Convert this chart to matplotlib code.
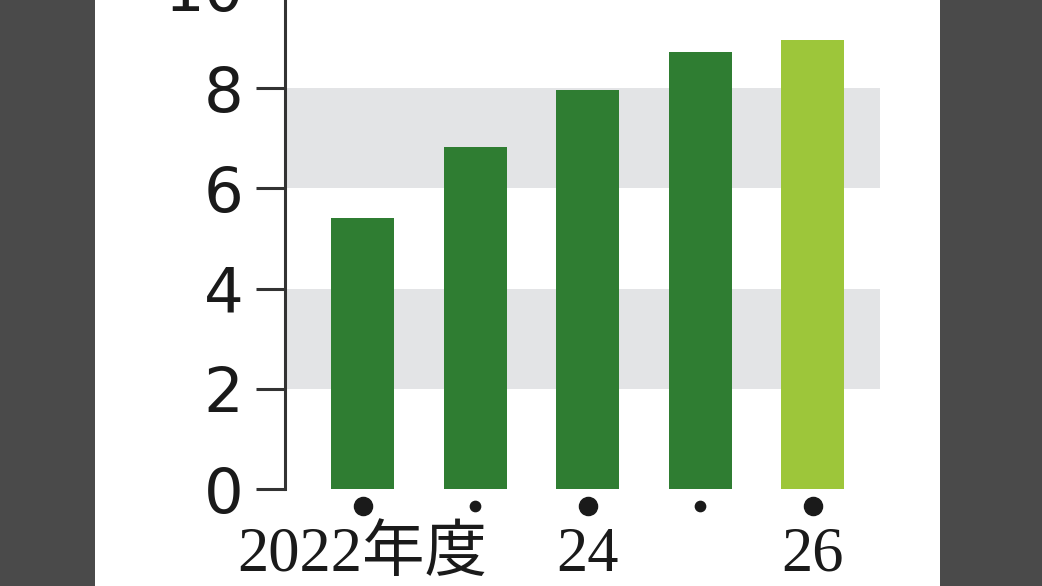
import matplotlib.pyplot as plt
from matplotlib.patches import Rectangle

# Daten
years = ["2022", "2023", "2024", "2025", "2026"]
values = [5.41, 6.83, 7.96, 8.72, 8.97]
bar_colors = ["#2f7d32", "#2f7d32", "#2f7d32", "#2f7d32", "#9dc63a"]
year_labels = ["2022年度", "", "24", "", "26"]
big_dot = [True, False, True, False, True]
y_ticks = [0, 2, 4, 6, 8, 10]
bands = [(2, 4), (6, 8)]

fig = plt.figure(figsize=(10.42, 5.86), dpi=100, facecolor="#4a4a4a")
# weisses Panel in der Mitte
panel = Rectangle((95 / 1042, 0), 845 / 1042, 1, transform=fig.transFigure,
                  facecolor="white", edgecolor="none", zorder=-1)
fig.add_artist(panel)

# Achse reicht oben ueber das Bild hinaus (10 wird abgeschnitten)
ax = fig.add_axes([285 / 1042, 97 / 586, 595 / 1042, 501 / 586])
ax.set_zorder(1)
ax.set_facecolor("none")
ax.set_xlim(-0.689, 4.6)
ax.set_ylim(0, 10)

for lo, hi in bands:
    ax.axhspan(lo, hi, color="#e3e4e6", lw=0, zorder=0)

x = list(range(len(years)))
ax.bar(x, values, width=0.56, color=bar_colors, zorder=2)

# Punkte unter den Balken
for i, big in enumerate(big_dot):
    ax.scatter(i, -0.33, s=170 if big else 55, color="#1a1a1a", clip_on=False, zorder=3)

# Jahresbeschriftungen
for i, lab in enumerate(year_labels):
    if lab:
        ax.text(i, -1.63, lab, ha="center", va="baseline", fontsize=45,
                family=["Liberation Serif", "Noto Sans CJK JP"], color="#1a1a1a",
                clip_on=False)

ax.set_xticks([])
ax.set_yticks(y_ticks)
ax.set_yticklabels([str(t) for t in y_ticks], fontsize=45, color="#1a1a1a")
ax.tick_params(axis="y", length=21, width=2.2, color="#333333", pad=9, direction="out")

for s in ["top", "right", "bottom"]:
    ax.spines[s].set_visible(False)
ax.spines["left"].set_linewidth(2.2)
ax.spines["left"].set_color("#333333")

fig.savefig("out.png", dpi=100, facecolor=fig.get_facecolor())
